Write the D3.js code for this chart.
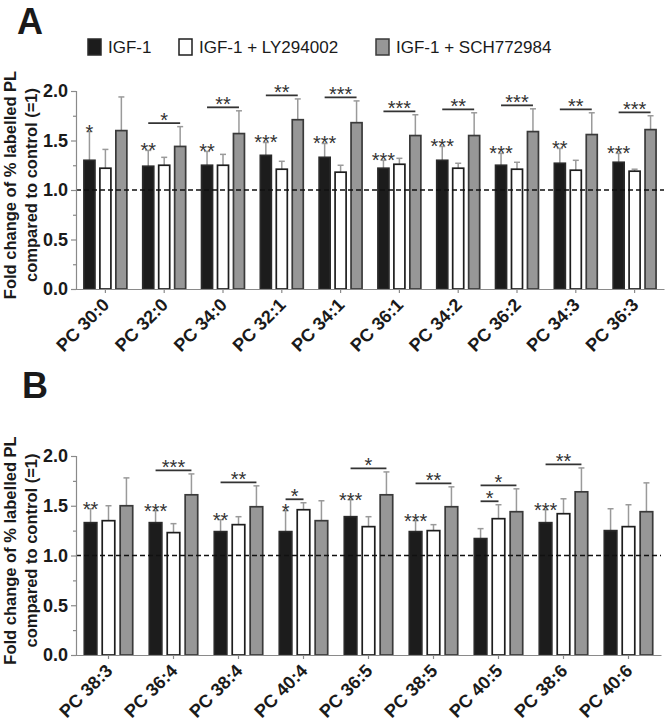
<!DOCTYPE html>
<html>
<head>
<meta charset="utf-8">
<script src="https://cdn.jsdelivr.net/npm/d3@7"></script>
<style>
  body { margin: 0; background: #fff; }
  svg { display: block; }
  text { font-family: "Liberation Sans", Arial, sans-serif; }
</style>
</head>
<body>
<svg id="chart" width="666" height="725"></svg>
<script>
// ---------------- DATA ----------------
const seriesNames = ["IGF-1", "IGF-1 + LY294002", "IGF-1 + SCH772984"];
const seriesKeys = ["igf", "ly", "sch"];

const catsA = ["PC 30:0", "PC 32:0", "PC 34:0", "PC 32:1", "PC 34:1", "PC 36:1", "PC 34:2", "PC 36:2", "PC 34:3", "PC 36:3"];
const igfA    = [1.30, 1.24, 1.25, 1.35, 1.33, 1.22, 1.30, 1.25, 1.27, 1.28];
const igfErrA = [0.29, 0.16, 0.14, 0.13, 0.14, 0.08, 0.14, 0.12, 0.15, 0.09];
const lyA     = [1.22, 1.25, 1.25, 1.21, 1.18, 1.26, 1.22, 1.21, 1.20, 1.19];
const lyErrA  = [0.19, 0.08, 0.11, 0.08, 0.07, 0.06, 0.05, 0.07, 0.10, 0.02];
const schA    = [1.60, 1.44, 1.57, 1.71, 1.68, 1.55, 1.55, 1.59, 1.56, 1.61];
const schErrA = [0.34, 0.20, 0.23, 0.21, 0.22, 0.21, 0.23, 0.23, 0.22, 0.14];
const starsA  = ["*", "**", "**", "***", "***", "***", "***", "***", "**", "***"];
// comparison brackets: [category index, from series, to series, label]
const bracketsA = [
  [1, "igf", "sch", "*"], [2, "igf", "sch", "**"], [3, "igf", "sch", "**"],
  [4, "igf", "sch", "***"], [5, "igf", "sch", "***"], [6, "igf", "sch", "**"],
  [7, "igf", "sch", "***"], [8, "igf", "sch", "**"], [9, "igf", "sch", "***"]
];

const catsB = ["PC 38:3", "PC 36:4", "PC 38:4", "PC 40:4", "PC 36:5", "PC 38:5", "PC 40:5", "PC 38:6", "PC 40:6"];
const igfB    = [1.33, 1.33, 1.24, 1.24, 1.39, 1.24, 1.17, 1.33, 1.25];
const igfErrB = [0.14, 0.12, 0.12, 0.21, 0.17, 0.11, 0.10, 0.13, 0.22];
const lyB     = [1.35, 1.23, 1.31, 1.46, 1.29, 1.25, 1.37, 1.42, 1.29];
const lyErrB  = [0.15, 0.09, 0.08, 0.07, 0.10, 0.06, 0.14, 0.15, 0.22];
const schB    = [1.50, 1.61, 1.49, 1.35, 1.61, 1.49, 1.44, 1.64, 1.44];
const schErrB = [0.28, 0.21, 0.21, 0.20, 0.23, 0.20, 0.23, 0.24, 0.29];
const starsB  = ["**", "***", "**", "*", "***", "***", "", "***", ""];
const bracketsB = [
  [1, "igf", "sch", "***"], [2, "igf", "sch", "**"], [3, "igf", "ly", "*"],
  [4, "igf", "sch", "*"], [5, "igf", "sch", "**"], [6, "igf", "ly", "*"],
  [6, "igf", "sch", "*"], [7, "igf", "sch", "**"]
];

const yTicks = [0, 0.5, 1.0, 1.5, 2.0];
const yMinorTicks = [0.25, 0.75, 1.25, 1.75];
const yTitle1 = "Fold change of % labelled PL";
const yTitle2 = "compared to control (=1)";

// ---------------- STYLE ----------------
const fills = { igf: "#1c1c1c", ly: "#ffffff", sch: "#979797" };
const strokes = { igf: "#2a2a2a", ly: "#1e1e1e", sch: "#3a3a3a" };
const axisColor = "#8a8a8a";
const errColor = "#9a9a9a";
const textColor = "#1a1a1a";
const starSize = 20;

const svg = d3.select("#chart");

function buildRows(cats, igf, igfE, ly, lyE, sch, schE) {
  return cats.map((c, i) => ({
    cat: c,
    igf: igf[i], igfE: igfE[i],
    ly: ly[i], lyE: lyE[i],
    sch: sch[i], schE: schE[i]
  }));
}

function drawPanel(opts) {
  const { rows, stars, brackets, x0, x1, yTop, yBottom, outerPad, innerPad, letter, letterPos } = opts;
  const g = svg.append("g");

  const y = d3.scaleLinear().domain([0, 2]).range([yBottom, yTop]);
  const x = d3.scaleBand().domain(rows.map(d => d.cat)).range([x0, x1])
    .paddingInner(outerPad).paddingOuter(outerPad / 2);
  const xs = d3.scaleBand().domain(seriesKeys).range([0, x.bandwidth()])
    .paddingInner(innerPad).paddingOuter(0);

  // Panel letter
  g.append("text").attr("x", letterPos[0]).attr("y", letterPos[1])
    .attr("font-size", 36).attr("font-weight", "bold").attr("fill", textColor).text(letter);

  // Bars
  rows.forEach(d => {
    seriesKeys.forEach(k => {
      const bx = x(d.cat) + xs(k);
      const bw = xs.bandwidth();
      const cx = bx + bw / 2;
      const yv = y(d[k]);
      const ye = y(d[k] + d[k + "E"]);
      g.append("line").attr("x1", cx).attr("x2", cx).attr("y1", yv).attr("y2", ye)
        .attr("stroke", errColor).attr("stroke-width", 1.5);
      g.append("line").attr("x1", cx - 3).attr("x2", cx + 3).attr("y1", ye).attr("y2", ye)
        .attr("stroke", errColor).attr("stroke-width", 1.5);
      g.append("rect").attr("x", bx).attr("y", yv).attr("width", bw).attr("height", y(0) - yv)
        .attr("fill", fills[k]).attr("stroke", strokes[k]).attr("stroke-width", 1.7);
    });
  });

  // Dashed reference line at 1
  g.append("line").attr("x1", x0).attr("x2", x1).attr("y1", y(1)).attr("y2", y(1))
    .attr("stroke", "#111").attr("stroke-width", 1.6).attr("stroke-dasharray", "5,3");

  // Y axis
  const yAxis = d3.axisLeft(y).tickValues(yTicks).tickFormat(d3.format(".1f")).tickSize(5).tickPadding(3);
  const ya = g.append("g").attr("transform", `translate(${x0},0)`).call(yAxis);
  ya.select(".domain").attr("stroke", axisColor).attr("stroke-width", 1.2);
  ya.selectAll(".tick line").attr("stroke", axisColor).attr("stroke-width", 1.2);
  ya.selectAll(".tick text").attr("font-size", 18).attr("font-weight", "bold")
    .attr("fill", textColor).attr("font-family", "Liberation Sans, Arial, sans-serif");
  const yMinor = d3.axisLeft(y).tickValues(yMinorTicks).tickFormat("").tickSize(3);
  const ym = g.append("g").attr("transform", `translate(${x0},0)`).call(yMinor);
  ym.select(".domain").remove();
  ym.selectAll(".tick line").attr("stroke", axisColor).attr("stroke-width", 1.2);

  // X axis
  const xAxis = d3.axisBottom(x).tickSize(4).tickSizeOuter(0).tickFormat("");
  const xa = g.append("g").attr("transform", `translate(0,${y(0)})`).call(xAxis);
  xa.select(".domain").attr("stroke", axisColor).attr("stroke-width", 1.2);
  xa.selectAll(".tick line").attr("stroke", axisColor).attr("stroke-width", 1.2);
  rows.forEach(d => {
    const tx = x(d.cat) + x.bandwidth() / 2;
    g.append("text")
      .attr("transform", `translate(${tx + 5},${y(0) + 17}) rotate(-45)`)
      .attr("text-anchor", "end").attr("font-size", 18).attr("font-weight", "bold")
      .attr("fill", textColor).text(d.cat);
  });

  // Y title
  const yMid = (yTop + yBottom) / 2 - 5;
  g.append("text").attr("transform", `translate(16,${yMid}) rotate(-90)`)
    .attr("text-anchor", "middle").attr("font-size", 16.5).attr("font-weight", "bold")
    .attr("fill", textColor).text(yTitle1);
  g.append("text").attr("transform", `translate(37,${yMid}) rotate(-90)`)
    .attr("text-anchor", "middle").attr("font-size", 16.5).attr("font-weight", "bold")
    .attr("fill", textColor).text(yTitle2);

  // Stars over IGF-1 bars
  rows.forEach((d, i) => {
    if (!stars[i]) return;
    const cx = x(d.cat) + xs("igf") + xs.bandwidth() / 2;
    g.append("text").attr("x", cx).attr("y", y(d.igf + d.igfE) + 7)
      .attr("text-anchor", "middle").attr("font-size", starSize).attr("fill", "#333")
      .text(stars[i]);
  });

  // Brackets
  brackets.forEach(([ci, from, to, label]) => {
    const d = rows[ci];
    const i0 = seriesKeys.indexOf(from), i1 = seriesKeys.indexOf(to);
    const covered = seriesKeys.slice(i0, i1 + 1);
    const top = d3.max(covered, k => d[k] + d[k + "E"]) + 0.035;
    const xa0 = x(d.cat) + xs(from) + xs.bandwidth() / 2;
    const xa1 = x(d.cat) + xs(to) + xs.bandwidth() / 2;
    g.append("line").attr("x1", xa0).attr("x2", xa1).attr("y1", y(top)).attr("y2", y(top))
      .attr("stroke", "#333").attr("stroke-width", 1.8);
    g.append("text").attr("x", (xa0 + xa1) / 2).attr("y", y(top) + 4)
      .attr("text-anchor", "middle").attr("font-size", starSize).attr("fill", "#333")
      .text(label);
  });
}

// ---------------- LEGEND ----------------
const legendItems = [
  { k: "igf", x: 88, label: seriesNames[0] },
  { k: "ly", x: 179, label: seriesNames[1] },
  { k: "sch", x: 376, label: seriesNames[2] }
];
const leg = svg.append("g");
legendItems.forEach(it => {
  leg.append("rect").attr("x", it.x).attr("y", 39).attr("width", 13).attr("height", 16)
    .attr("fill", fills[it.k]).attr("stroke", strokes[it.k]).attr("stroke-width", 1.5);
  leg.append("text").attr("x", it.x + 20).attr("y", 53).attr("font-size", 17)
    .attr("fill", textColor).text(it.label);
});

drawPanel({
  rows: buildRows(catsA, igfA, igfErrA, lyA, lyErrA, schA, schErrA),
  stars: starsA, brackets: bracketsA,
  x0: 76, x1: 664, yTop: 91, yBottom: 289,
  outerPad: 0.27, innerPad: 0.31,
  letter: "A", letterPos: [17, 34]
});

drawPanel({
  rows: buildRows(catsB, igfB, igfErrB, lyB, lyErrB, schB, schErrB),
  stars: starsB, brackets: bracketsB,
  x0: 76, x1: 661, yTop: 456, yBottom: 655,
  outerPad: 0.255, innerPad: 0.30,
  letter: "B", letterPos: [22, 398]
});
</script>
</body>
</html>
